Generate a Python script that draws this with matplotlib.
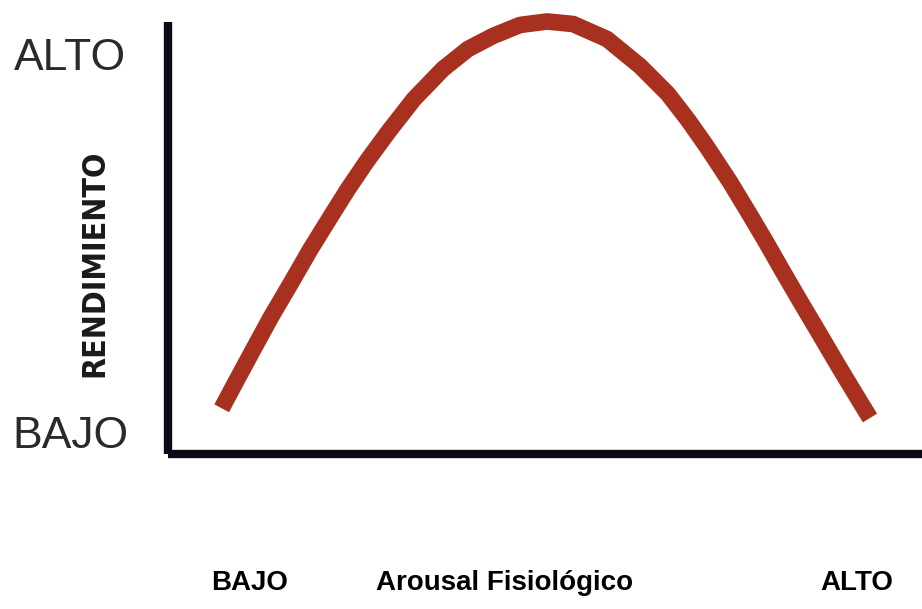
import matplotlib
matplotlib.use('Agg')
import matplotlib.pyplot as plt
from matplotlib import font_manager

# ── datos (arousal 0-100, rendimiento 0-100) ─────────────────────────
arousal = [7.12, 8.89, 11.27, 13.66, 16.31, 18.83, 21.62, 23.87, 26.39, 29.31,
           32.63, 36.47, 39.79, 43.10, 46.68, 50.27, 53.71, 58.22, 62.60, 66.31,
           68.97, 71.49, 74.54, 77.19, 79.31, 81.43, 83.82, 86.34, 88.99, 91.64,
           93.10]
rendimiento = [10.58, 16.37, 24.07, 31.71, 39.58, 47.22, 55.09, 61.34, 67.82, 74.77,
               82.18, 89.12, 93.75, 96.76, 99.31, 100.12, 99.54, 96.06, 89.81, 83.33,
               77.31, 71.06, 62.96, 55.32, 49.07, 42.59, 35.42, 28.01, 20.14, 12.50,
               8.33]

y_labels = ['BAJO', 'ALTO']
x_labels = ['BAJO', 'Arousal Fisiológico', 'ALTO']
y_title = 'RENDIMIENTO'

W, H = 922, 609
fig = plt.figure(figsize=(W / 100, H / 100), dpi=100, facecolor='white')


def fx(px):
    return px / W


def fy(py):
    return 1 - py / H


# ejes: spine izquierdo en x=168 px, spine inferior en y=454 px
ax = fig.add_axes([fx(168), fy(454), fx(W - 168), (454 - 22) / H])
ax.set_xlim(0, 100)
ax.set_ylim(0, 100)
ax.set_xticks([])
ax.set_yticks([])
for s in ('top', 'right'):
    ax.spines[s].set_visible(False)
for s in ('left', 'bottom'):
    ax.spines[s].set_linewidth(6)
    ax.spines[s].set_color('#0b0b18')
    ax.spines[s].set_capstyle('butt')

ax.plot(arousal, rendimiento, color='#a8301e', linewidth=12,
        solid_capstyle='butt', solid_joinstyle='round', clip_on=False)

# ── etiquetas eje Y ─────────────────────────────────────────────
fig.text(fx(70), fy(59), y_labels[1], fontsize=32, color='#2a2a2a',
         family='Liberation Sans', ha='center', va='center')
fig.text(fx(70), fy(437), y_labels[0], fontsize=32, color='#2a2a2a',
         family='Liberation Sans', ha='center', va='center')

narrow = [f.name for f in font_manager.fontManager.ttflist if 'Narrow' in f.name]
fam = ['Liberation Sans Narrow'] if narrow else ['DejaVu Sans']
fig.text(fx(95), fy(263), y_title, fontsize=23, color='#1a1a1a', rotation=90,
         family=fam, fontweight='bold', fontstretch='condensed',
         ha='center', va='center')

# ── etiquetas eje X ─────────────────────────────────────────────
for lbl, px in zip(x_labels, [250, 505, 857]):
    fig.text(fx(px), fy(583), lbl, fontsize=20, fontweight='bold', color='black',
             family='Liberation Sans', ha='center', va='center')

fig.savefig('out.png', dpi=100, facecolor='white')
